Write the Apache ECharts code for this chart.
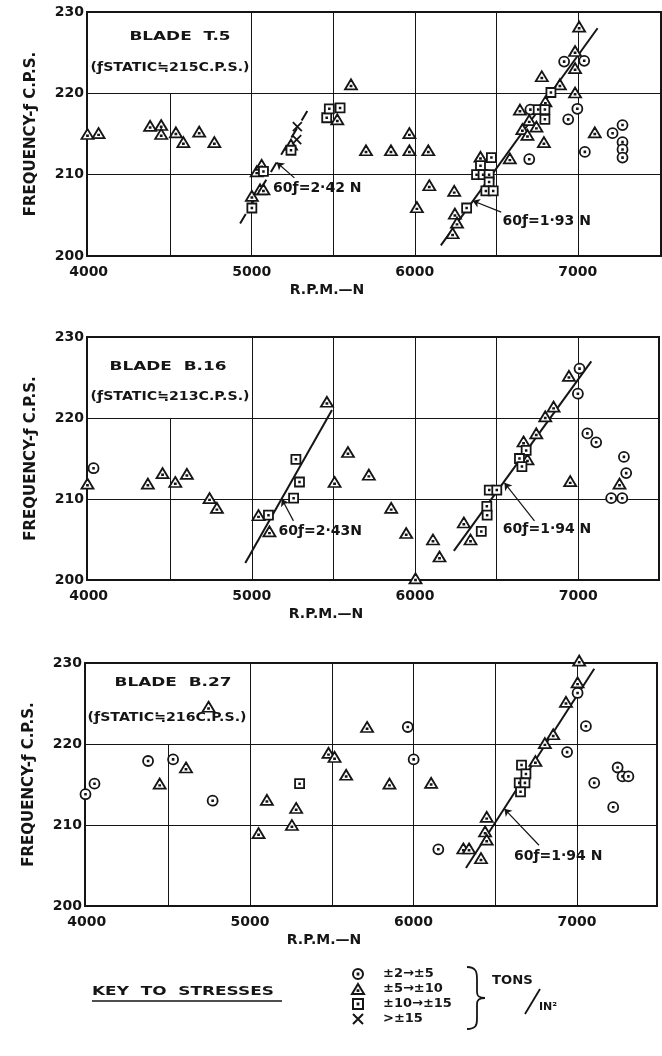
<!DOCTYPE html>
<html>
<head>
<meta charset="utf-8">
<script src="https://cdn.jsdelivr.net/npm/echarts@6.0.0/dist/echarts.min.js"></script>
<style>
  html, body { margin: 0; padding: 0; background: #fff; }
  #chart { width: 662px; height: 1056px; }
</style>
</head>
<body>
<div id="chart"></div>
<script>
// axis ticks
const xTicks = [4000, 5000, 6000, 7000]
const yTicks = [200, 210, 220, 230]
const xGridValues = [5000, 5500, 6000, 6500, 7000]
const stressNames = ['±2→±5', '±5→±10', '±10→±15', '>±15']

// blade T.5  [rpm, frequency]
const t5Circles = [[6702, 211.9], [6709, 218.0], [6941, 216.8], [6997, 218.1], [6916, 223.9], [7039, 224.0], [7043, 212.8], [7213, 215.1], [7274, 216.1], [7274, 214.0], [7274, 213.1], [7274, 212.1]]
const t5Triangles = [[3993, 215.0], [4061, 215.1], [4377, 216.0], [4445, 216.1], [4445, 215.0], [4535, 215.2], [4581, 214.0], [4678, 215.3], [4771, 214.0], [5001, 207.4], [5051, 208.2], [5072, 208.2], [5031, 210.4], [5061, 211.2], [5241, 213.7], [5525, 216.8], [5609, 221.1], [5701, 213.0], [5854, 213.0], [5967, 213.0], [5967, 215.1], [6083, 213.0], [6089, 208.7], [6013, 206.0], [6242, 208.0], [6246, 205.2], [6259, 204.1], [6232, 202.8], [6403, 212.2], [6583, 212.0], [6645, 218.0], [6660, 215.6], [6691, 214.9], [6702, 216.7], [6746, 215.9], [6792, 214.0], [6801, 219.0], [6890, 221.1], [6779, 222.1], [6983, 220.1], [6983, 223.1], [6983, 225.2], [7008, 228.2], [7104, 215.2]]
const t5Squares = [[5001, 205.9], [5072, 210.4], [5241, 213.0], [5460, 217.0], [5476, 218.1], [5542, 218.2], [6318, 205.9], [6403, 211.1], [6470, 212.1], [6379, 210.0], [6419, 210.0], [6456, 210.0], [6456, 209.1], [6436, 208.0], [6481, 208.0], [6757, 218.0], [6798, 218.0], [6798, 216.8], [6835, 220.1]]
const t5Crosses = [[5276, 214.3], [5280, 215.9]]
const t5Fit193 = [[6160, 201.3], [7121, 228.0]]
const t5Fit242 = [[4929, 204.0], [5352, 218.2]]

// blade B.16
const b16Circles = [[4030, 213.8], [7008, 226.1], [6998, 223.0], [7056, 218.1], [7110, 217.0], [7280, 215.2], [7294, 213.2], [7202, 210.1], [7270, 210.1]]
const b16Triangles = [[3993, 211.9], [4363, 211.9], [4453, 213.2], [4531, 212.1], [4602, 213.1], [4741, 210.1], [4786, 208.9], [5041, 208.0], [5108, 206.0], [5460, 222.0], [5507, 212.1], [5589, 215.8], [5717, 213.0], [5854, 208.9], [5946, 205.8], [6003, 200.2], [6110, 205.0], [6150, 202.9], [6299, 207.1], [6340, 205.0], [6665, 217.1], [6689, 214.9], [6743, 218.1], [6798, 220.2], [6849, 221.4], [6943, 225.2], [6951, 212.2], [7253, 211.9]]
const b16Squares = [[5102, 208.0], [5270, 214.9], [5292, 212.1], [5256, 210.1], [6406, 206.0], [6440, 209.1], [6442, 208.0], [6455, 211.1], [6501, 211.1], [6681, 216.0], [6640, 215.0], [6655, 214.0]]
const b16Crosses = []
const b16Fit243 = [[4960, 202.1], [5491, 221.0]]
const b16Fit194 = [[6238, 203.6], [7080, 227.0]]

// blade B.27
const b27Circles = [[3993, 213.8], [4048, 215.1], [4376, 217.9], [4529, 218.1], [4771, 213.0], [5965, 222.1], [6001, 218.1], [6152, 207.0], [6940, 219.0], [7004, 226.3], [7055, 222.2], [7106, 215.2], [7249, 217.1], [7279, 216.0], [7315, 216.0], [7222, 212.2]]
const b27Triangles = [[4447, 215.1], [4608, 217.1], [4746, 224.6], [5052, 209.0], [5103, 213.1], [5282, 212.1], [5256, 210.0], [5480, 218.9], [5517, 218.4], [5588, 216.2], [5716, 222.1], [5853, 215.1], [6108, 215.2], [6305, 207.1], [6340, 207.1], [6413, 205.9], [6448, 211.0], [6438, 209.2], [6448, 208.2], [6746, 217.9], [6804, 220.1], [6855, 221.2], [6933, 225.2], [7004, 227.6], [7014, 230.3]]
const b27Squares = [[5303, 215.1], [6661, 217.4], [6688, 216.3], [6647, 215.2], [6682, 215.2], [6655, 214.1]]
const b27Crosses = []
const b27Fit194 = [[6321, 204.7], [7106, 229.3]]

const FONT = '"DejaVu Sans", sans-serif'
const INK = '#151515'

const SYMBOLS = [
  'path://M5,0A5,5,0,1,1,4.99,0ZM4.6,4.6L5.4,4.6L5.4,5.4L4.6,5.4Z',
  'path://M6,0L12,10L0,10ZM5.6,6.3L6.4,6.3L6.4,7.1L5.6,7.1Z',
  'path://M0,0L10,0L10,10L0,10ZM4.6,4.6L5.4,4.6L5.4,5.4L4.6,5.4Z',
  'path://M0,0L10,10M10,0L0,10'
]
const SIZES = [[10, 10], [12, 10], [9, 9], [9, 9]]

const panels = [
  {
    grid: { left: 87, top: 12, width: 574, height: 244 },
    range: [3990, 7510],
    groups: [t5Circles, t5Triangles, t5Squares, t5Crosses],
    fits: [
      { pts: t5Fit193, dashed: false, text: '60ƒ=1·93 N', tip: [6355, 206.8], tail: [6530, 205.4], at: [6535, 204.2] },
      { pts: t5Fit242, dashed: true, text: '60ƒ=2·42 N', tip: [5154, 211.5], tail: [5262, 209.6], at: [5128, 208.3] }
    ],
    title: ['BLADE  T.5', '(ƒSTATIC≒215C.P.S.)'],
    titlePos: [[180, 37], [170, 68]]
  },
  {
    grid: { left: 87, top: 337, width: 572, height: 243 },
    range: [3990, 7495],
    groups: [b16Circles, b16Triangles, b16Squares, b16Crosses],
    fits: [
      { pts: b16Fit243, dashed: false, text: '60ƒ=2·43N', tip: [5184, 210.0], tail: [5255, 207.3], at: [5160, 206.0] },
      { pts: b16Fit194, dashed: false, text: '60ƒ=1·94 N', tip: [6548, 212.0], tail: [6732, 207.3], at: [6535, 206.2] }
    ],
    title: ['BLADE  B.16', '(ƒSTATIC≒213C.P.S.)'],
    titlePos: [[168, 367], [170, 397]]
  },
  {
    grid: { left: 85, top: 663, width: 572, height: 243 },
    range: [3990, 7490],
    groups: [b27Circles, b27Triangles, b27Squares, b27Crosses],
    fits: [
      { pts: b27Fit194, dashed: false, text: '60ƒ=1·94 N', tip: [6556, 212.0], tail: [6768, 207.5], at: [6612, 206.1] }
    ],
    title: ['BLADE  B.27', '(ƒSTATIC≒216C.P.S.)'],
    titlePos: [[173, 683], [167, 718]]
  }
]

const grids = []
const xAxes = []
const yAxes = []
const series = []
const graphics = []

panels.forEach((p, i) => {
  grids.push({ ...p.grid, show: true, borderColor: INK, borderWidth: 2, backgroundColor: 'transparent' })
  xAxes.push({
    type: 'value', gridIndex: i, min: p.range[0], max: p.range[1],
    name: 'R.P.M.—N', nameLocation: 'middle', nameGap: 27,
    nameTextStyle: { fontFamily: FONT, fontWeight: 'bold', fontSize: 14, color: INK, padding: [0, 94, 0, 0] },
    axisLine: { show: false }, axisTick: { show: false }, splitLine: { show: false },
    axisLabel: {
      customValues: xTicks, margin: 9, fontFamily: FONT, fontWeight: 'bold', fontSize: 14, color: INK,
      formatter: v => String(v)
    }
  })
  yAxes.push({
    type: 'value', gridIndex: i, min: yTicks[0], max: yTicks[yTicks.length - 1], interval: 10,
    name: 'FREQUENCY-ƒ C.P.S.', nameLocation: 'middle', nameGap: 48, nameRotate: 90,
    nameTextStyle: { fontFamily: FONT, fontWeight: 'bold', fontSize: 15, color: INK },
    axisLine: { show: false }, axisTick: { show: false },
    splitLine: { show: true, lineStyle: { color: INK, width: 1 } },
    axisLabel: { margin: 3, fontFamily: FONT, fontWeight: 'bold', fontSize: 14, color: INK, formatter: v => String(v) }
  })

  // vertical grid lines (the 4500 line stops under the label box)
  series.push({
    type: 'line', xAxisIndex: i, yAxisIndex: i, data: [], z: 1, silent: true,
    markLine: {
      symbol: 'none', silent: true, animation: false, label: { show: false },
      lineStyle: { color: INK, width: 1, type: 'solid' },
      emphasis: { disabled: true },
      data: xGridValues.map(v => ({ xAxis: v })).concat([[{ coord: [4500, 200] }, { coord: [4500, 220] }]])
    }
  })

  p.fits.forEach(f => {
    series.push({
      type: 'line', xAxisIndex: i, yAxisIndex: i, data: f.pts, symbol: 'none', z: 3, silent: true,
      lineStyle: { color: INK, width: 2, type: f.dashed ? [11, 9] : 'solid' },
      markLine: {
        symbol: ['none', 'arrow'], symbolSize: 7, silent: true, animation: false,
        label: { show: false }, emphasis: { disabled: true },
        lineStyle: { color: INK, width: 1.2, type: 'solid' },
        data: [[{ coord: f.tail }, { coord: f.tip }]]
      },
      markPoint: {
        symbol: 'circle', symbolSize: 1, silent: true, animation: false,
        itemStyle: { color: 'rgba(0,0,0,0)' },
        label: { show: true, position: 'right', distance: 0, formatter: f.text, fontFamily: FONT, fontWeight: 'bold', fontSize: 14, color: INK },
        data: [{ coord: f.at }]
      }
    })
  })

  p.groups.forEach((g, k) => {
    series.push({
      type: 'scatter', name: stressNames[k], xAxisIndex: i, yAxisIndex: i, data: g,
      symbol: SYMBOLS[k], symbolSize: SIZES[k], clip: false, z: 5, silent: true,
      itemStyle: { color: '#fff', borderColor: INK, borderWidth: 1.8, opacity: 1 },
      emphasis: { disabled: true }
    })
  })

  // label box in the top-left cell
  graphics.push({
    type: 'text', x: p.titlePos[0][0], y: p.titlePos[0][1], scaleX: 1.3,
    style: { text: p.title[0], fill: INK, font: 'bold 13px ' + FONT, align: 'center', verticalAlign: 'middle', textAlign: 'center', textVerticalAlign: 'middle' }
  })
  graphics.push({
    type: 'text', x: p.titlePos[1][0], y: p.titlePos[1][1], scaleX: 1.18,
    style: { text: p.title[1], fill: INK, font: 'bold 12px ' + FONT, align: 'center', verticalAlign: 'middle', textAlign: 'center', textVerticalAlign: 'middle' }
  })
})

// key to stresses
const keyStyle = { fill: INK, font: 'bold 13px ' + FONT, verticalAlign: 'middle', textVerticalAlign: 'middle' }
graphics.push(
  { type: 'text', x: 92, y: 992, scaleX: 1.3, style: { ...keyStyle, text: 'KEY  TO  STRESSES' } },
  { type: 'line', shape: { x1: 92, y1: 1001, x2: 282, y2: 1001 }, style: { stroke: INK, lineWidth: 1.5 } },
  { type: 'bezierCurve', shape: { x1: 467, y1: 967, cpx1: 476, cpy1: 967, cpx2: 477, cpy2: 972, x2: 477, y2: 979 }, style: { stroke: INK, lineWidth: 1.8, fill: null } },
  { type: 'line', shape: { x1: 477, y1: 979, x2: 477, y2: 992 }, style: { stroke: INK, lineWidth: 1.8 } },
  { type: 'bezierCurve', shape: { x1: 477, y1: 992, cpx1: 477, cpy1: 997, cpx2: 480, cpy2: 998, x2: 485, y2: 998 }, style: { stroke: INK, lineWidth: 1.8, fill: null } },
  { type: 'bezierCurve', shape: { x1: 485, y1: 998, cpx1: 480, cpy1: 998, cpx2: 477, cpy2: 999, x2: 477, y2: 1004 }, style: { stroke: INK, lineWidth: 1.8, fill: null } },
  { type: 'line', shape: { x1: 477, y1: 1004, x2: 477, y2: 1019 }, style: { stroke: INK, lineWidth: 1.8 } },
  { type: 'bezierCurve', shape: { x1: 477, y1: 1019, cpx1: 477, cpy1: 1025, cpx2: 476, cpy2: 1029, x2: 467, y2: 1029 }, style: { stroke: INK, lineWidth: 1.8, fill: null } },
  { type: 'text', x: 492, y: 981, scaleX: 1.1, style: { ...keyStyle, font: 'bold 12px ' + FONT, text: 'TONS' } },
  { type: 'line', shape: { x1: 525, y1: 1014, x2: 540, y2: 989 }, style: { stroke: INK, lineWidth: 1.8 } },
  { type: 'text', x: 539, y: 1007, style: { ...keyStyle, font: 'bold 11px ' + FONT, text: 'IN²' } }
)

const chart = echarts.init(document.getElementById('chart'), null, { renderer: 'canvas' })
chart.setOption({
  animation: false,
  backgroundColor: '#fff',
  grid: grids,
  xAxis: xAxes,
  yAxis: yAxes,
  legend: {
    data: stressNames, orient: 'vertical', left: 346, top: 962,
    itemWidth: 12, itemHeight: 10, itemGap: 1, selectedMode: false,
    textStyle: { fontFamily: FONT, fontWeight: 'bold', fontSize: 13, color: INK, padding: [0, 0, 0, 14], lineHeight: 14 }
  },
  graphic: graphics,
  series
})
</script>
</body>
</html>
